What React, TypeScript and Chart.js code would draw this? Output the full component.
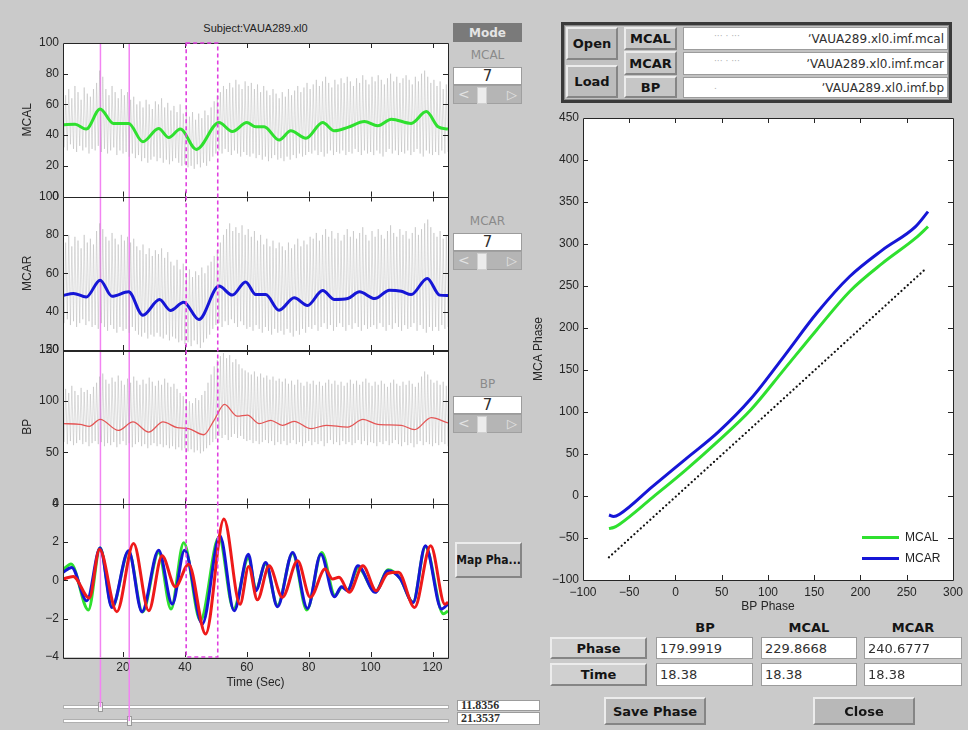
import React, { useEffect, useRef } from 'react';
import { Chart, registerables } from 'chart.js';

Chart.register(...registerables);

// ---------------- data ----------------
const subjectTitle = 'Subject:VAUA289.xl0';
const timeTicks = [20, 40, 60, 80, 100, 120];
const timeMin = 0.6;
const timeMax = 125;
const mcalTicks = [0, 20, 40, 60, 80, 100];
const mcarTicks = [20, 40, 60, 80, 100];
const bpTicks = [0, 50, 100, 150];
const imfTicks = [-4, -2, 0, 2, 4];

// raw pulsatile signals: one trough/peak pair per beat
const beatStart = 1;
const beatStep = 1;
const beatUpstroke = 0.45;

const mcalRawPeak = [
  66, 70, 64, 72, 68, 63, 71, 67, 65, 70,
  74, 82, 78, 70, 66, 72, 68, 64, 70, 66,
  68, 63, 65, 60, 62, 58, 63, 60, 57, 62,
  60, 64, 58, 61, 56, 59, 55, 60, 54, 57,
  52, 55, 50, 54, 51, 56, 53, 58, 62, 66,
  68, 72, 70, 74, 71, 76, 73, 70, 75, 72,
  74, 70, 73, 68, 72, 69, 66, 70, 67, 64,
  68, 65, 70, 66, 69, 72, 68, 71, 74, 70,
  73, 76, 72, 75, 78, 74, 71, 76, 73, 77,
  74, 78, 75, 72, 77, 74, 79, 76, 73, 78,
  75, 79, 76, 73, 77, 80, 75, 78, 74, 77,
  79, 76, 73, 78, 75, 80, 82, 78, 74, 76,
  72, 75, 70, 73, 71,
];
const mcalRawTrough = [
  32, 30, 34, 31, 29, 33, 30, 32, 28, 31,
  30, 33, 29, 31, 28, 30, 32, 27, 30, 28,
  29, 26, 28, 25, 27, 23, 25, 22, 24, 26,
  23, 25, 22, 24, 21, 23, 25, 22, 20, 21,
  19, 20, 18, 21, 19, 22, 20, 23, 26, 28,
  30, 28, 31, 29, 27, 30, 28, 26, 29, 27,
  26, 28, 25, 27, 24, 26, 23, 25, 27, 24,
  25, 23, 26, 24, 27, 25, 28, 26, 27, 29,
  28, 30, 27, 29, 26, 28, 30, 27, 29, 28,
  30, 27, 29, 28, 31, 29, 27, 30, 28, 29,
  27, 30, 28, 26, 29, 31, 28, 30, 27, 29,
  28, 30, 27, 29, 31, 28, 26, 30, 28, 27,
  29, 27, 30, 28, 29,
];
const mcarRawPeak = [
  76, 80, 74, 79, 77, 73, 80, 76, 78, 75,
  82, 86, 83, 79, 77, 81, 78, 75, 80, 77,
  79, 76, 78, 74, 72, 75, 70, 73, 69, 72,
  70, 73, 68, 71, 66, 64, 67, 62, 65, 60,
  62, 58, 61, 59, 63, 60, 64, 66, 69, 72,
  76, 80, 83, 86, 82, 84, 81, 85, 80, 83,
  79, 82, 77, 80, 75, 78, 74, 77, 73, 76,
  74, 72, 76, 73, 75, 78, 74, 77, 75, 79,
  78, 81, 77, 80, 83, 79, 82, 78, 81, 77,
  80, 83, 79, 82, 78, 81, 84, 80, 77, 82,
  79, 83, 80, 78, 82, 85, 81, 79, 83, 80,
  82, 78, 81, 84, 80, 83, 86, 88, 84, 81,
  79, 82, 78, 80, 77,
];
const mcarRawTrough = [
  34, 36, 33, 35, 32, 34, 36, 33, 35, 32,
  33, 31, 34, 32, 30, 33, 31, 29, 32, 30,
  31, 29, 32, 30, 28, 27, 29, 26, 28, 27,
  29, 27, 26, 28, 25, 27, 26, 24, 25, 23,
  24, 22, 25, 23, 21, 24, 26, 28, 31, 33,
  34, 32, 35, 33, 36, 34, 32, 35, 33, 31,
  32, 30, 33, 31, 29, 32, 30, 28, 31, 29,
  30, 28, 31, 29, 27, 30, 28, 31, 29, 32,
  31, 33, 30, 32, 34, 31, 33, 30, 32, 34,
  32, 30, 33, 31, 34, 32, 30, 33, 31, 32,
  33, 31, 34, 32, 30, 33, 31, 34, 32, 30,
  33, 31, 32, 34, 30, 33, 31, 29, 32, 30,
  32, 30, 33, 31, 32,
];
const bpRawPeak = [
  112, 108, 115, 110, 106, 113, 109, 111, 107, 114,
  118, 124, 127, 121, 117, 123, 119, 125, 120, 116,
  122, 118, 124, 120, 116, 121, 117, 123, 119, 115,
  120, 116, 122, 118, 114, 117, 112, 108, 105, 102,
  100, 98, 103, 101, 106, 110, 118, 126, 134, 140,
  144, 147, 142, 145, 138, 141, 136, 132, 130, 128,
  126, 129, 124, 127, 123, 125, 121, 124, 120, 122,
  119, 122, 117, 120, 116, 121, 118, 115, 119, 117,
  120, 116, 119, 115, 118, 121, 117, 120, 116, 119,
  115, 118, 121, 117, 120, 116, 119, 122, 118, 115,
  119, 116, 120, 117, 114, 118, 121, 117, 115, 119,
  116, 120, 117, 114, 118, 124, 129, 126, 121, 118,
  120, 116, 119, 115, 117,
];
const bpRawTrough = [
  60, 58, 61, 57, 59, 62, 58, 60, 56, 59,
  61, 58, 60, 56, 59, 57, 60, 55, 58, 61,
  57, 59, 55, 58, 60, 56, 58, 54, 57, 59,
  56, 58, 55, 57, 54, 56, 53, 55, 52, 54,
  51, 53, 50, 52, 49, 51, 54, 57, 60, 63,
  66, 64, 67, 62, 65, 68, 64, 66, 63, 61,
  62, 59, 61, 58, 60, 62, 59, 61, 57, 60,
  58, 61, 57, 59, 62, 58, 60, 56, 59, 61,
  57, 60, 58, 61, 56, 59, 62, 58, 60, 57,
  61, 58, 60, 57, 59, 62, 58, 61, 57, 60,
  59, 56, 60, 58, 61, 57, 59, 62, 58, 56,
  60, 57, 59, 55, 58, 61, 57, 60, 58, 56,
  59, 57, 60, 58, 56,
];

// selected-mode (7) smooth traces
const mcalSmoothT = [0.6, 4.5, 8.1, 12.6, 16.9, 21.8, 26.4, 31.5, 34.8, 38.5, 43.7, 51.0, 55.3, 60.0, 62.9, 65.6, 70.4, 74.2, 79.1, 84.5, 88.3, 92.6, 98.0, 102.3, 106.7, 113.1, 118.0, 121.8, 125];
const mcalSmoothV = [46.7, 47.1, 43.9, 57.0, 47.6, 47.6, 35.7, 44.3, 38.4, 43.9, 30.7, 48.2, 42.3, 48.2, 45.4, 45.4, 36.8, 42.8, 37.9, 48.2, 42.8, 45.0, 48.9, 46.1, 50.4, 47.6, 55.3, 45.4, 43.9];
const mcarSmoothT = [0.6, 4.0, 8.1, 12.6, 16.4, 21.8, 26.4, 31.8, 35.3, 39.6, 44.5, 51.0, 55.3, 59.6, 62.9, 66.1, 70.4, 75.3, 79.6, 84.5, 88.3, 92.6, 96.4, 101.3, 106.1, 109.9, 113.1, 118.3, 122.3, 125];
const mcarSmoothV = [48.4, 49.5, 47.6, 56.4, 48.0, 50.3, 38.1, 46.3, 40.6, 44.9, 35.9, 53.3, 48.6, 55.5, 48.9, 48.9, 40.7, 47.2, 43.2, 51.0, 46.3, 46.8, 50.3, 46.8, 51.2, 50.6, 48.9, 57.3, 48.6, 48.4];
const bpSmoothT = [0.6, 6.1, 9.1, 12.6, 18.5, 23.2, 28.3, 32.9, 37.5, 41.2, 46.1, 49.4, 52.8, 56.9, 60.2, 64.0, 67.7, 71.5, 75.3, 80.7, 85.6, 92.6, 97.5, 102.3, 109.9, 114.2, 119.6, 125];
const bpSmoothV = [78.0, 77.4, 75.4, 82.3, 71.4, 79.7, 69.8, 79.7, 74.1, 73.1, 67.2, 81.3, 96.8, 85.3, 86.3, 78.0, 81.3, 76.4, 80.3, 73.1, 76.4, 74.7, 82.3, 77.4, 76.4, 72.1, 83.9, 78.7];

// intrinsic mode functions (bottom panel)
const mcalImfT = [0.6, 3.2, 8.8, 12.6, 16.5, 21.8, 26.3, 31.5, 35.5, 39.6, 45.0, 51.0, 55.7, 60.5, 63.0, 66.0, 69.9, 74.8, 79.4, 84.2, 88.5, 90.8, 92.6, 96.0, 101.5, 105.7, 109.5, 113.7, 117.7, 123.5, 125];
const mcalImfV = [0.55, 0.85, -1.55, 1.7, -1.4, 1.5, -1.65, 1.45, -1.5, 1.95, -2.1, 2.25, -1.5, 1.15, -0.45, 0.85, -1.3, 1.4, -1.55, 1.45, -0.8, -0.35, -0.5, 0.65, -0.6, 0.55, 0.1, -1.15, 1.75, -1.75, -1.6];
const mcarImfT = [0.6, 3.4, 8.3, 12.6, 16.4, 21.8, 26.1, 31.5, 35.9, 39.9, 45.6, 51.3, 55.9, 60.5, 62.9, 66.1, 69.9, 74.8, 79.6, 83.9, 88.3, 90.6, 92.5, 95.9, 101.5, 105.6, 109.5, 113.7, 117.7, 122.9, 125];
const mcarImfV = [0.41, 0.67, -1.07, 1.68, -1.42, 1.54, -1.64, 1.57, -1.24, 1.57, -2.28, 2.32, -1.59, 1.36, -0.55, 0.93, -1.38, 1.45, -1.47, 1.36, -0.86, -0.34, -0.55, 0.75, -0.63, 0.49, 0.1, -1.16, 1.8, -1.5, -1.24];
const bpImfT = [0.6, 3.9, 9.1, 12.4, 18.0, 23.4, 28.3, 32.6, 36.9, 41.2, 46.7, 52.6, 57.8, 60.6, 63.4, 67.2, 71.5, 76.4, 80.5, 85.3, 87.7, 89.8, 93.1, 97.5, 101.8, 105.5, 109.0, 114.2, 119.4, 124.0, 125];
const bpImfV = [0.06, 0.2, -0.93, 1.62, -1.64, 1.92, -1.59, 1.28, -0.34, 0.84, -2.8, 3.19, -1.25, 0.72, -1.02, 0.75, -0.89, 1.02, -0.89, 0.58, 0.06, 0.16, -0.63, 0.75, -0.55, 0.35, 0.42, -1.42, 1.8, -1.25, -1.15];

// cursors and selection window
const cursorTimes = [12.7, 22.0];
const cursorLabels = ['11.8356', '21.3537'];
const selectionWindow = [40.4, 50.6];

// phase plot
const phaseXMin = -100, phaseXMax = 300, phaseYMin = -100, phaseYMax = 450, phaseStep = 50;
const bpPhase = [-71.9, -66.9, -60.5, -25, 10.6, 46.1, 81.7, 117.3, 152.8, 188.3, 223.9, 259.5, 273];
const mcalPhase = [-38.7, -37.5, -33.5, -1.9, 30.5, 65.3, 103, 150.5, 198, 243.5, 277.2, 306.9, 320.7];
const mcarPhase = [-22.6, -24.5, -21.7, 11.2, 43.6, 76, 116, 166.3, 217.8, 261.3, 293, 320.7, 338.5];
const refBpPhase = [-72, 100, 270];
const refMcaPhase = [-73, 99, 270];

// readouts
const tableHeaders = ['BP', 'MCAL', 'MCAR'];
const phaseValues = ['179.9919', '229.8668', '240.6777'];
const timeValues = ['18.38', '18.38', '18.38'];
const fileNames = ['VAUA289.xl0.imf.mcal', 'VAUA289.xl0.imf.mcar', 'VAUA289.xl0.imf.bp'];
const modeLabels = ['MCAL', 'MCAR', 'BP'];
const modeValues = ['7', '7', '7'];

// ---------------- styles ----------------
const GREEN = '#2fe02f';
const BLUE = '#1616d6';
const RED = '#ee1a1a';
const BP_RED = '#e45555';
const GRAY_RAW = 'rgba(175,175,175,0.42)';
const AXIS = '#262626';
const PLOT_FONT = '"Liberation Sans", Arial, Helvetica, sans-serif';
const UI_FONT = '"DejaVu Sans", "Liberation Sans", sans-serif';

Chart.defaults.font.family = PLOT_FONT;
Chart.defaults.font.size = 12;
Chart.defaults.color = AXIS;

const minus = (v: number) => String(v).replace('-', '\u2212');

const pairs = (xs: number[], ys: number[]) => xs.map((x, i) => ({ x, y: ys[i] }));
const rawWave = (peaks: number[], troughs: number[]) => {
  const pts: { x: number; y: number }[] = [];
  peaks.forEach((p, i) => {
    const t = beatStart + i * beatStep;
    pts.push({ x: t, y: troughs[i] });
    pts.push({ x: t + beatUpstroke, y: p });
  });
  return pts;
};

function drawFrame(ctx: CanvasRenderingContext2D, xScale: any, yScale: any, left: number, right: number, top: number, bottom: number) {
  const tl = 5;
  ctx.save();
  ctx.strokeStyle = AXIS;
  ctx.lineWidth = 1;
  ctx.beginPath();
  ctx.rect(Math.round(left) + 0.5, Math.round(top) + 0.5, Math.round(right - left), Math.round(bottom - top));
  for (const t of xScale.ticks) {
    const px = Math.round(xScale.getPixelForValue(t.value)) + 0.5;
    if (px <= left + 1 || px >= right - 1) continue;
    ctx.moveTo(px, bottom);
    ctx.lineTo(px, bottom - tl);
    ctx.moveTo(px, top);
    ctx.lineTo(px, top + tl);
  }
  for (const t of yScale.ticks) {
    const py = Math.round(yScale.getPixelForValue(t.value)) + 0.5;
    if (py <= top + 1 || py >= bottom - 1) continue;
    ctx.moveTo(left, py);
    ctx.lineTo(left + tl, py);
    ctx.moveTo(right, py);
    ctx.lineTo(right - tl, py);
  }
  ctx.stroke();
  ctx.restore();
}

const traceAxes = ['yMCAL', 'yMCAR', 'yBP', 'yIMF'];
const cursorTails = [50, 64];

const tracePlugin = {
  id: 'tracePlugin',
  beforeDraw(chart: any) {
    const { ctx, chartArea: a } = chart;
    ctx.save();
    ctx.fillStyle = '#ffffff';
    ctx.fillRect(a.left, a.top, a.right - a.left, a.bottom - a.top);
    ctx.restore();
  },
  beforeDatasetsDraw(chart: any) {
    const { ctx, chartArea: a } = chart;
    const xs = chart.scales.x;
    ctx.save();
    ctx.strokeStyle = '#f283f2';
    ctx.lineWidth = 1.5;
    cursorTimes.forEach((t, i) => {
      const px = xs.getPixelForValue(t);
      ctx.beginPath();
      ctx.moveTo(px, a.top);
      ctx.lineTo(px, a.bottom + cursorTails[i]);
      ctx.stroke();
    });
    ctx.restore();
  },
  afterDatasetsDraw(chart: any) {
    const { ctx, chartArea: a } = chart;
    const xs = chart.scales.x;
    traceAxes.forEach((id) => {
      const ys = chart.scales[id];
      drawFrame(ctx, xs, ys, a.left, a.right, ys.top, ys.bottom);
    });
    const x0 = xs.getPixelForValue(selectionWindow[0]);
    const x1 = xs.getPixelForValue(selectionWindow[1]);
    ctx.save();
    ctx.strokeStyle = '#e040e0';
    ctx.lineWidth = 1.6;
    ctx.setLineDash([4, 3]);
    ctx.strokeRect(x0, a.top, x1 - x0, a.bottom - a.top);
    ctx.restore();
  },
};

const phasePlugin = {
  id: 'phasePlugin',
  beforeDraw(chart: any) {
    const { ctx, chartArea: a } = chart;
    ctx.save();
    ctx.fillStyle = '#ffffff';
    ctx.fillRect(a.left, a.top, a.right - a.left, a.bottom - a.top);
    ctx.restore();
  },
  afterDatasetsDraw(chart: any) {
    const { ctx, chartArea: a } = chart;
    drawFrame(ctx, chart.scales.x, chart.scales.y, a.left, a.right, a.top, a.bottom);
  },
};

const yTraceAxis = (title: string, ticks: number[], min: number, max: number, weight: number) => ({
  type: 'linear',
  position: 'left',
  stack: 'traces',
  stackWeight: 1,
  weight,
  min,
  max,
  afterBuildTicks: (s: any) => {
    s.ticks = ticks.map((v) => ({ value: v }));
  },
  afterFit: (s: any) => {
    s.width = 47;
  },
  grid: { display: false, drawTicks: false },
  border: { display: false },
  ticks: { padding: 4, color: AXIS, font: { size: 12 }, autoSkip: false, callback: (v: number) => minus(v) },
  title: { display: true, text: title, color: AXIS, font: { size: 12 }, padding: { top: 4, bottom: 4 } },
});

function TraceChart() {
  const ref = useRef<HTMLCanvasElement>(null);
  useEffect(() => {
    const line = (label: string, data: any, axis: string, color: string, width: number, smooth = true) => ({
      label,
      data,
      yAxisID: axis,
      borderColor: color,
      borderWidth: width,
      pointRadius: 0,
      fill: false,
      cubicInterpolationMode: smooth ? 'monotone' : 'default',
      tension: 0,
    });
    const chart = new Chart(ref.current as HTMLCanvasElement, {
      type: 'line',
      data: {
        datasets: [
          line('BP IMF', pairs(bpImfT, bpImfV), 'yIMF', RED, 3),
          line('MCAR IMF', pairs(mcarImfT, mcarImfV), 'yIMF', BLUE, 3),
          line('MCAL IMF', pairs(mcalImfT, mcalImfV), 'yIMF', GREEN, 3),
          line('MCAL mode', pairs(mcalSmoothT, mcalSmoothV), 'yMCAL', GREEN, 3),
          line('MCAR mode', pairs(mcarSmoothT, mcarSmoothV), 'yMCAR', BLUE, 3),
          line('BP mode', pairs(bpSmoothT, bpSmoothV), 'yBP', BP_RED, 1.3),
          line('MCAL', rawWave(mcalRawPeak, mcalRawTrough), 'yMCAL', GRAY_RAW, 1, false),
          line('MCAR', rawWave(mcarRawPeak, mcarRawTrough), 'yMCAR', GRAY_RAW, 1, false),
          line('BP', rawWave(bpRawPeak, bpRawTrough), 'yBP', GRAY_RAW, 1, false),
        ] as any,
      },
      options: {
        animation: false,
        responsive: false,
        devicePixelRatio: 1,
        parsing: false as any,
        layout: { padding: { left: 16, right: 7, top: 43, bottom: 36 } },
        plugins: { legend: { display: false }, tooltip: { enabled: false }, title: { display: false } },
        scales: {
          x: {
            type: 'linear',
            position: 'bottom',
            min: timeMin,
            max: timeMax,
            afterBuildTicks: (s: any) => {
              s.ticks = timeTicks.map((v) => ({ value: v }));
            },
            afterFit: (s: any) => {
              s.height = 37;
            },
            grid: { display: false, drawTicks: false },
            border: { display: false },
            ticks: { padding: 3, color: AXIS, maxRotation: 0, autoSkip: false, font: { size: 12 } },
            title: { display: true, text: 'Time (Sec)', color: AXIS, font: { size: 12 }, padding: { top: 2, bottom: 4 } },
          },
          yMCAL: yTraceAxis('MCAL', mcalTicks, 0, 100, 4),
          yMCAR: yTraceAxis('MCAR', mcarTicks, 20, 100, 3),
          yBP: yTraceAxis('BP', bpTicks, 0, 150, 2),
          yIMF: yTraceAxis('', imfTicks, -4, 4, 1),
        } as any,
      },
      plugins: [tracePlugin],
    });
    return () => chart.destroy();
  }, []);
  return <canvas ref={ref} width={455} height={730} style={{ position: 'absolute', left: 0, top: 0, width: 455, height: 730 }} />;
}

function PhaseChart() {
  const ref = useRef<HTMLCanvasElement>(null);
  useEffect(() => {
    const chart = new Chart(ref.current as HTMLCanvasElement, {
      type: 'scatter',
      data: {
        datasets: [
          { label: 'MCAR', data: pairs(bpPhase, mcarPhase), borderColor: BLUE, borderWidth: 3, showLine: true, pointRadius: 0, cubicInterpolationMode: 'monotone' },
          { label: 'MCAL', data: pairs(bpPhase, mcalPhase), borderColor: GREEN, borderWidth: 3, showLine: true, pointRadius: 0, cubicInterpolationMode: 'monotone' },
          { label: 'reference', data: pairs(refBpPhase, refMcaPhase), borderColor: '#111', borderWidth: 2.2, borderDash: [0.1, 4.2], borderCapStyle: 'round', showLine: true, pointRadius: 0 },
        ] as any,
      },
      options: {
        animation: false,
        responsive: false,
        devicePixelRatio: 1,
        layout: { padding: { left: 7, right: 10, top: 18, bottom: 2 } },
        plugins: { legend: { display: false }, tooltip: { enabled: false } },
        scales: {
          x: {
            type: 'linear',
            min: phaseXMin,
            max: phaseXMax,
            ticks: { stepSize: phaseStep, padding: 5, color: AXIS, maxRotation: 0, autoSkip: false, font: { size: 12 }, callback: (v: number) => minus(v) },
            afterFit: (s: any) => {
              s.height = 38;
            },
            grid: { display: false, drawTicks: false },
            border: { display: false },
            title: { display: true, text: 'BP Phase', color: AXIS, font: { size: 12 }, padding: { top: 2, bottom: 4 } },
          },
          y: {
            type: 'linear',
            min: phaseYMin,
            max: phaseYMax,
            ticks: { stepSize: phaseStep, padding: 4, color: AXIS, autoSkip: false, font: { size: 12 }, callback: (v: number) => minus(v) },
            afterFit: (s: any) => {
              s.width = 56;
            },
            grid: { display: false, drawTicks: false },
            border: { display: false },
            title: { display: true, text: 'MCA Phase', color: AXIS, font: { size: 12 }, padding: { top: 4, bottom: 4 } },
          },
        } as any,
      },
      plugins: [phasePlugin],
    });
    return () => chart.destroy();
  }, []);
  return <canvas ref={ref} width={448} height={520} style={{ position: 'absolute', left: 520, top: 100, width: 448, height: 520 }} />;
}

// ---------------- GUI widgets ----------------
const abs = (x: number, y: number, w: number, h: number): React.CSSProperties => ({
  position: 'absolute', left: x, top: y, width: w, height: h, boxSizing: 'border-box',
});

function Btn({ x, y, w, h, label, bg = '#c0c0c0', size = 13, family = UI_FONT }: any) {
  return (
    <div style={{
      ...abs(x, y, w, h), background: bg,
      borderTop: '2px solid #ececec', borderLeft: '2px solid #ececec',
      borderRight: '2px solid #858585', borderBottom: '2px solid #858585',
      display: 'flex', alignItems: 'center', justifyContent: 'center',
      font: `bold ${size}px ${family}`, color: '#141414', whiteSpace: 'nowrap', overflow: 'hidden',
    }}>{label}</div>
  );
}

function Field({ x, y, w, h, text, align = 'left', font = `12px ${UI_FONT}`, children }: any) {
  return (
    <div style={{
      ...abs(x, y, w, h), background: '#ffffff', border: '1px solid #9c9c9c',
      display: 'flex', alignItems: 'center', justifyContent: align === 'right' ? 'flex-end' : align === 'center' ? 'center' : 'flex-start',
      padding: '0 3px', font, color: '#303030', whiteSpace: 'nowrap', overflow: 'hidden', position: 'absolute',
    }}>{children}{text}</div>
  );
}

function ModeSlider({ x, y }: any) {
  return (
    <div style={{ ...abs(x, y, 69, 19), background: '#b5b5b5', border: '1px solid #a0a0a0' }}>
      <div style={{ position: 'absolute', left: 4, top: 0, font: `14px ${UI_FONT}`, color: '#e2e2e2', lineHeight: '17px' }}>&lt;</div>
      <div style={{ position: 'absolute', left: 23, top: 1, width: 8, height: 15, background: '#ececec', border: '1px solid #d0d0d0' }} />
      <div style={{ position: 'absolute', right: 4, top: 0, font: `13px ${UI_FONT}`, color: '#e2e2e2', lineHeight: '17px' }}>▷</div>
    </div>
  );
}

function ModeBlock({ label, value, y }: any) {
  return (
    <>
      <div style={{ ...abs(453, y, 69, 14), textAlign: 'center', font: `12px ${UI_FONT}`, color: '#8a8a8a' }}>{label}</div>
      <Field x={453} y={y + 19} w={69} h={18} text={value} align="center" font={`15px ${UI_FONT}`} />
      <ModeSlider x={453} y={y + 37} />
    </>
  );
}

function TimeSlider({ y, thumbX, value, vy, vh }: any) {
  return (
    <>
      <div style={{ ...abs(63, y, 386, 4), background: '#ffffff', border: '1px solid #b0b0b0' }} />
      <div style={{ ...abs(thumbX, y - 3, 5, 10), background: '#f4f4f4', border: '1px solid #9a9a9a' }} />
      <Field x={457} y={vy} w={83} h={vh} text={value} font={`bold 12px "Liberation Serif", serif`} />
    </>
  );
}

export default function App() {
  useEffect(() => {
    document.body.style.margin = '0';
  }, []);
  const colX = [656, 761, 864];
  const colW = [97, 96, 98];
  const headX = [705, 809, 913];
  return (
    <div style={{ position: 'absolute', left: 0, top: 0, width: 968, height: 730, background: '#cacaca', overflow: 'hidden' }}>
      {/* title */}
      <div style={{ ...abs(63, 22, 385, 14), textAlign: 'center', font: `11px ${PLOT_FONT}`, color: '#222' }}>{subjectTitle}</div>

      {/* mode column */}
      <div style={{ ...abs(453, 23, 69, 19), background: '#7a7a7a', color: '#e4e4e4', font: `bold 12px ${UI_FONT}`, display: 'flex', alignItems: 'center', justifyContent: 'center' }}>Mode</div>
      <ModeBlock label={modeLabels[0]} value={modeValues[0]} y={48} />
      <ModeBlock label={modeLabels[1]} value={modeValues[1]} y={214} />
      <ModeBlock label={modeLabels[2]} value={modeValues[2]} y={377} />
      <Btn x={455} y={542} w={67} h={36} label="Map Pha..." size={12} bg="#c4c4c4" family={'"DejaVu Sans Condensed", "Liberation Sans Narrow", "DejaVu Sans", sans-serif'} />

      {/* time sliders */}
      <TimeSlider y={705} thumbX={98} value={cursorLabels[0]} vy={700} vh={11} />
      <TimeSlider y={719} thumbX={127} value={cursorLabels[1]} vy={712} vh={13} />

      {/* file panel */}
      <div style={{ ...abs(561, 22, 391, 81), background: '#c2c2c2', border: '3px solid #3a3a3a', boxShadow: 'inset 0 0 0 1px #8a8a8a' }} />
      <Btn x={566} y={27} w={52} h={33} label="Open" bg="#bcbcbc" />
      <Btn x={566} y={65} w={52} h={33} label="Load" bg="#bcbcbc" />
      <Btn x={624} y={27} w={53} h={23} label="MCAL" bg="#c6c6c6" />
      <Btn x={624} y={51} w={53} h={24} label="MCAR" bg="#c6c6c6" />
      <Btn x={624} y={76} w={53} h={22} label="BP" bg="#c6c6c6" />
      {fileNames.map((f, i) => (
        <Field key={f} x={683} y={[27, 52, 77][i]} w={265} h={[23, 23, 21][i]} text={'\u02BC' + f} align="right">
          <span style={{ position: 'absolute', left: 30, top: 3, color: '#b0b0b0', fontSize: 9 }}>{i < 2 ? '\u00B7\u00B7\u00B7        \u00B7      \u00B7\u00B7\u00B7' : '.'}</span>
        </Field>
      ))}

      {/* phase chart & legend */}
      <PhaseChart />
      <div style={{ ...abs(862, 530, 60, 40) }}>
        <div style={{ position: 'absolute', left: 0, top: 6, width: 37, height: 3, background: GREEN }} />
        <div style={{ position: 'absolute', left: 43, top: 0, font: `12px ${PLOT_FONT}`, color: '#222' }}>MCAL</div>
        <div style={{ position: 'absolute', left: 0, top: 27, width: 37, height: 3, background: BLUE }} />
        <div style={{ position: 'absolute', left: 43, top: 21, font: `12px ${PLOT_FONT}`, color: '#222' }}>MCAR</div>
      </div>

      {/* readout table */}
      {tableHeaders.map((h, i) => (
        <div key={h} style={{ ...abs(headX[i] - 40, 620, 80, 16), textAlign: 'center', font: `bold 13px ${UI_FONT}`, color: '#151515' }}>{h}</div>
      ))}
      <Btn x={550} y={637} w={97} h={22} label="Phase" bg="#d0d0d0" />
      <Btn x={550} y={663} w={97} h={23} label="Time" bg="#d0d0d0" />
      {phaseValues.map((v, i) => (
        <Field key={'p' + i} x={colX[i]} y={637} w={colW[i]} h={22} text={v} font={`13px ${UI_FONT}`} />
      ))}
      {timeValues.map((v, i) => (
        <Field key={'t' + i} x={colX[i]} y={663} w={colW[i]} h={23} text={v} font={`13px ${UI_FONT}`} />
      ))}
      <Btn x={604} y={697} w={102} h={28} label="Save Phase" bg="#b8b8b8" />
      <Btn x={813} y={697} w={102} h={28} label="Close" bg="#b8b8b8" />

      {/* trace chart on top so cursor lines cross the sliders */}
      <TraceChart />
    </div>
  );
}
